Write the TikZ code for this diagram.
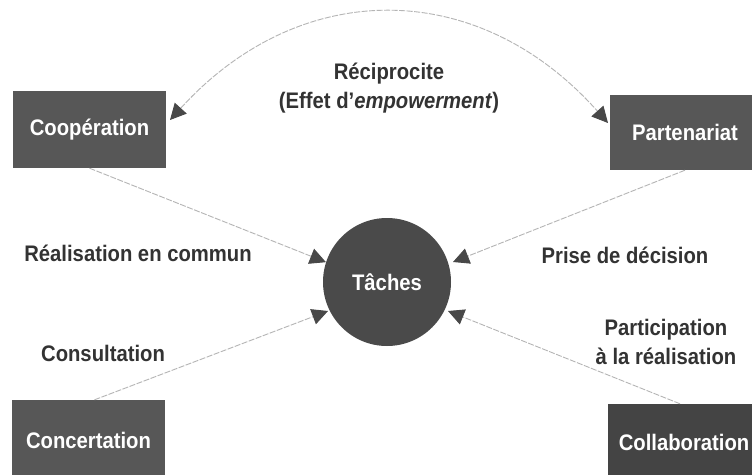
\documentclass[tikz,border=0pt]{standalone}
\usepackage{fontspec}
\setmainfont{Liberation Sans}[FakeStretch=0.9]
\usetikzlibrary{arrows.meta,calc}
\definecolor{boxgray}{HTML}{575757}
\definecolor{darkbox}{HTML}{444444}
\definecolor{circgray}{HTML}{4A4A4A}
\definecolor{txtgray}{HTML}{333333}
\definecolor{linegray}{HTML}{B5B5B5}
\definecolor{headgray}{HTML}{484848}
\begin{document}
\begin{tikzpicture}[x=1pt,y=-1pt,
  font=\fontsize{22.5}{29}\selectfont\bfseries,
  boxnode/.style={fill=boxgray,text=white,inner sep=0pt},
  circnode/.style={circle,fill=circgray,text=white,minimum size=128pt,inner sep=0pt},
  lbl/.style={text=txtgray,inner sep=0pt,align=center},
  link/.style={draw=linegray,line width=0.9pt,dash pattern=on 6pt off 1.5pt,
    -{Triangle[length=16pt,width=16pt,color=headgray]}},
  arcline/.style={draw=linegray,line width=0.9pt,dash pattern=on 6pt off 1.5pt,
    {Triangle[length=16pt,width=16pt,color=headgray]}-{Triangle[length=16pt,width=16pt,color=headgray]}}
]
\useasboundingbox (0,0) rectangle (752,474);
\clip (0,0) rectangle (752,474);
\fill[white] (0,0) rectangle (752,474);

% boxes
\node[boxnode,minimum width=153pt,minimum height=77pt] (coop) at (89.5,129.5) {Coopération};
\node[boxnode,minimum width=150pt,minimum height=75pt] (part) at (685,132.5) {Partenariat};
\node[boxnode,minimum width=153pt,minimum height=80pt] (conc) at (88.5,440) {Concertation};
\node[boxnode,fill=darkbox,minimum width=152pt,minimum height=76pt] (coll) at (684,442) {Collaboration};

% centre
\node[circnode] (taches) at (387,282) {Tâches};

% labels
\node[lbl] (recip) at (389,88) {Réciprocite\\(Effet d'\textit{empowerment})};
\node[lbl] (real) at (138,253) {Réalisation en commun};
\node[lbl] (prise) at (625,255) {Prise de décision};
\node[lbl] (consult) at (103,353) {Consultation};
\node[lbl] (partic) at (666,342) {Participation\\à la réalisation};

% connectors
\draw[link] (coop.south) -- (taches.162);
\draw[link] (part.south) -- ($(taches.center)+(66,-20)$);
\draw[link] ([xshift=6pt]conc.north) -- ($(taches.center)+(-59,29)$);
\draw[link] ([xshift=-4pt]coll.north) -- ($(taches.center)+(61,29)$);

% reciprocity arc
\coordinate (arcL) at (170,120);
\coordinate (arcR) at (608,123);
\draw[arcline] (arcL) .. controls (300,-23) and (478,-23) .. (arcR);
\end{tikzpicture}
\end{document}
